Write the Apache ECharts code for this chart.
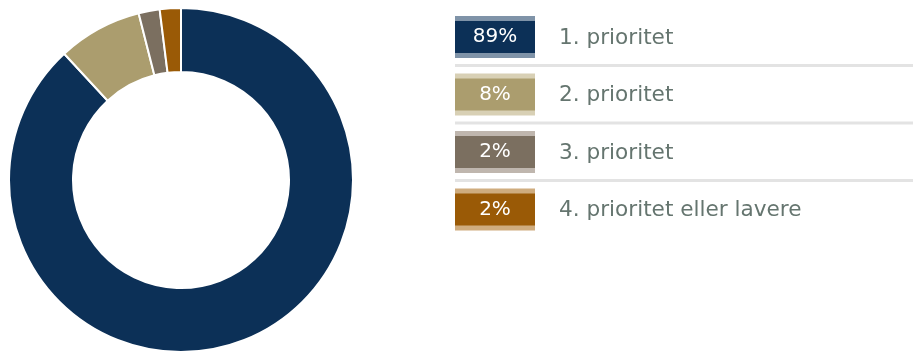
<!DOCTYPE html>
<html>
<head>
<meta charset="utf-8">
<script src="https://cdn.jsdelivr.net/npm/echarts@6/dist/echarts.min.js"></script>
<style>
html,body{margin:0;padding:0;background:#fff;}
#chart{width:920px;height:352px;}
</style>
</head>
<body>
<div id="chart"></div>
<script>
var categories = ['1. prioritet', '2. prioritet', '3. prioritet', '4. prioritet eller lavere'];
var values = [89, 8, 2, 2];
var valueLabels = ['89%', '8%', '2%', '2%'];
var colors = ['#0c3057', '#ab9d6e', '#7b6f60', '#9a5a06'];
var stripeColors = ['#7f93a8', '#d8d0b5', '#bfb6ae', '#cfac7e'];

var chart = echarts.init(document.getElementById('chart'), null, {renderer: 'canvas'});

var graphics = [];
var rowTop = 16, rowPitch = 57.5, boxX = 455, boxW = 80, boxH = 42, stripe = 5;
categories.forEach(function (name, i) {
  var y = rowTop + i * rowPitch;
  graphics.push({type: 'rect', shape: {x: boxX, y: y, width: boxW, height: boxH}, style: {fill: stripeColors[i]}, silent: true});
  graphics.push({type: 'rect', shape: {x: boxX, y: y + stripe, width: boxW, height: boxH - 2 * stripe}, style: {fill: colors[i]}, silent: true});
  graphics.push({type: 'text', x: boxX + boxW / 2, y: y + boxH / 2, style: {text: valueLabels[i], fill: '#ffffff', font: '20px "DejaVu Sans"', textAlign: 'center', textVerticalAlign: 'middle'}, silent: true});
  graphics.push({type: 'text', x: 559, y: y + boxH / 2 + 1, style: {text: name, fill: '#65756f', font: '21.6px "DejaVu Sans"', textAlign: 'left', textVerticalAlign: 'middle'}, silent: true});
  if (i < categories.length - 1) {
    graphics.push({type: 'rect', shape: {x: boxX, y: y + 48, width: 458, height: 3}, style: {fill: '#e3e3e3'}, silent: true});
  }
});

chart.setOption({
  animation: false,
  color: colors,
  series: [{
    type: 'pie',
    center: [181, 180],
    radius: [108, 172],
    startAngle: 90,
    clockwise: true,
    label: {show: false},
    labelLine: {show: false},
    itemStyle: {borderColor: '#ffffff', borderWidth: 2},
    emphasis: {disabled: true},
    data: categories.map(function (c, i) { return {name: c, value: values[i]}; })
  }],
  graphic: graphics
});
</script>
</body>
</html>
